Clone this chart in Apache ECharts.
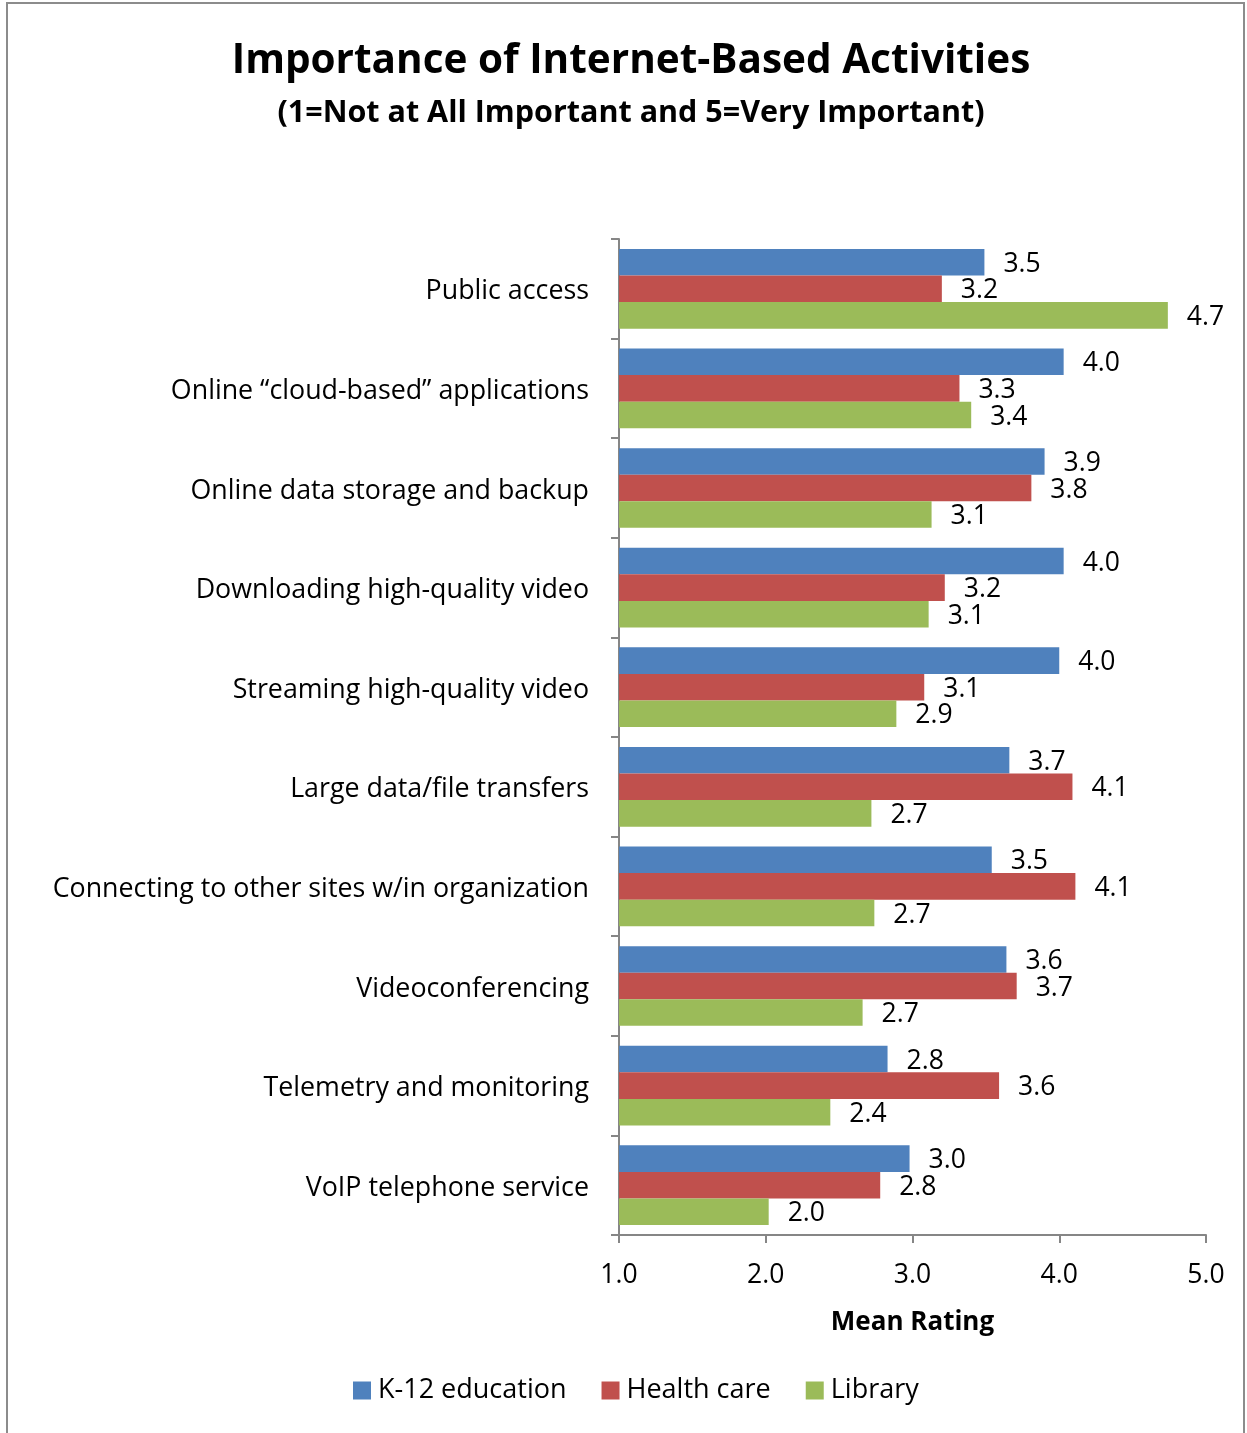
<!DOCTYPE html>
<html><head><meta charset="utf-8">
<script src="https://cdn.jsdelivr.net/npm/echarts@6/dist/echarts.min.js"></script>
<style>html,body{margin:0;padding:0;background:#fff;}#c{width:1247px;height:1433px;}</style>
</head><body><div id="c"></div>
<script>
const categories = ["Public access","Online \u201ccloud-based\u201d applications","Online data storage and backup","Downloading high-quality video","Streaming high-quality video","Large data/file transfers","Connecting to other sites w/in organization","Videoconferencing","Telemetry and monitoring","VoIP telephone service"];
const k12 = [3.49,4.03,3.90,4.03,4.00,3.66,3.54,3.64,2.83,2.98];
const health = [3.20,3.32,3.81,3.22,3.08,4.09,4.11,3.71,3.59,2.78];
const library = [4.74,3.40,3.13,3.11,2.89,2.72,2.74,2.66,2.44,2.02];
const xTicks = [1,2,3,4,5];
const FONT = 'Open Sans';
const chart = echarts.init(document.getElementById('c'));
const lbl = {show:true, position:'right', distance:18, offset:[1,2], color:'#000', fontSize:26.5, fontFamily:FONT, formatter:p=>p.value.toFixed(1)};
chart.setOption({
  animation:false,
  backgroundColor:'#fff',
  title:{text:'Importance of Internet-Based Activities', subtext:'(1=Not at All Important and 5=Very Important)', left:626, textAlign:'center', top:36,
    textStyle:{fontFamily:FONT, fontWeight:'bold', fontSize:40.5, color:'#000'},
    subtextStyle:{fontFamily:FONT, fontWeight:'bold', fontSize:30.5, color:'#000'}, itemGap:16},
  legend:{bottom:24, left:348, itemWidth:18, itemHeight:18, itemGap:35, icon:'rect', textStyle:{fontFamily:FONT, fontSize:27, color:'#000', padding:[0,0,0,2]}, data:['K-12 education','Health care','Library']},
  grid:{left:619, right:41, top:239, bottom:198},
  xAxis:{type:'value', min:xTicks[0], max:xTicks[xTicks.length-1], interval:1, name:'Mean Rating', nameLocation:'middle', nameGap:75,
    nameTextStyle:{fontFamily:FONT, fontWeight:'bold', fontSize:26, color:'#000'},
    axisLine:{show:true, lineStyle:{color:'#868686', width:2}}, axisTick:{show:true, length:8, lineStyle:{color:'#868686', width:2}},
    splitLine:{show:false}, axisLabel:{fontFamily:FONT, fontSize:26.5, color:'#000', margin:27, formatter:v=>v.toFixed(1)}},
  yAxis:{type:'category', data:categories, inverse:true,
    axisLine:{show:true, lineStyle:{color:'#868686', width:2}}, axisTick:{show:true, length:8, alignWithLabel:false, lineStyle:{color:'#868686', width:2}},
    axisLabel:{fontFamily:FONT, fontSize:26.8, color:'#000', margin:30, formatter:v=>'{a|'+v+'}',
      rich:{a:{fontFamily:FONT, fontSize:26.8, color:'#000', padding:[6,0,0,0]}}}},
  series:[
    {name:'K-12 education', type:'bar', data:k12, barGap:'0%', barCategoryGap:'20%', itemStyle:{color:'#4F81BD'}, label:lbl},
    {name:'Health care', type:'bar', data:health, barGap:'0%', barCategoryGap:'20%', itemStyle:{color:'#C0504D'}, label:lbl},
    {name:'Library', type:'bar', data:library, barGap:'0%', barCategoryGap:'20%', itemStyle:{color:'#9BBB59'}, label:lbl}
  ],
  graphic:[{type:'rect', shape:{x:7, y:3, width:1237, height:1440}, style:{fill:'none', stroke:'#8c8c8c', lineWidth:2}, silent:true}]
});
</script></body></html>
